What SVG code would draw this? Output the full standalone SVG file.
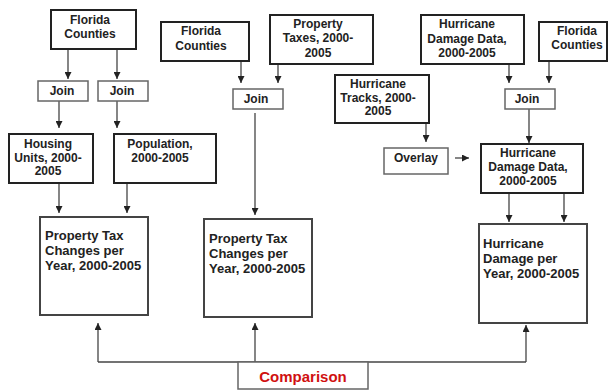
<svg xmlns="http://www.w3.org/2000/svg" width="609" height="390" viewBox="0 0 609 390">
<style>
.thick{fill:#fff;stroke:#222;stroke-width:2}
.thin{fill:#fff;stroke:#666;stroke-width:1.5}
.big{fill:#fff;stroke:#444;stroke-width:2}
.t{font-family:"Liberation Sans",Arial,sans-serif;font-weight:bold;font-size:12px;fill:#222;text-anchor:middle}
.tb{font-family:"Liberation Sans",Arial,sans-serif;font-weight:bold;font-size:13px;fill:#222}
.red{font-family:"Liberation Sans",Arial,sans-serif;font-weight:bold;font-size:15px;fill:#d01010;text-anchor:middle}
.c{fill:none;stroke:#444;stroke-width:1.3}
</style>
<defs>
<marker id="ah" viewBox="0 0 8 8" refX="8" refY="4" markerWidth="7" markerHeight="7" markerUnits="userSpaceOnUse" orient="auto">
<path d="M0,0 L8,4 L0,8 z" fill="#222"/>
</marker>
</defs>
<g id="connectors">
<path class="c" d="M68,49 V79" marker-end="url(#ah)"/>
<path class="c" d="M117,49 V79" marker-end="url(#ah)"/>
<path class="c" d="M59,101 V128" marker-end="url(#ah)"/>
<path class="c" d="M117,101 V128" marker-end="url(#ah)"/>
<path class="c" d="M59,183 V213" marker-end="url(#ah)"/>
<path class="c" d="M127,183 V213" marker-end="url(#ah)"/>
<path class="c" d="M241,61 V83" marker-end="url(#ah)"/>
<path class="c" d="M278,64 V83" marker-end="url(#ah)"/>
<path class="c" d="M255,113 V215" marker-end="url(#ah)"/>
<path class="c" d="M509,64 V83" marker-end="url(#ah)"/>
<path class="c" d="M549,61 V83" marker-end="url(#ah)"/>
<path class="c" d="M529,109 V143" marker-end="url(#ah)"/>
<path class="c" d="M426,123 V142" marker-end="url(#ah)"/>
<path class="c" d="M455,158 H469" marker-end="url(#ah)"/>
<path class="c" d="M509,193 V222" marker-end="url(#ah)"/>
<path class="c" d="M564,193 V222" marker-end="url(#ah)"/>
<path class="c" d="M98,362 H526"/>
<path class="c" d="M98,362 V323" marker-end="url(#ah)"/>
<path class="c" d="M255,362 V323" marker-end="url(#ah)"/>
<path class="c" d="M526,362 V325" marker-end="url(#ah)"/>
</g>
<g id="fc1"><rect class="thick" x="51" y="10" width="85" height="39"/><text class="t" x="90" y="24">Florida</text><text class="t" x="90" y="38">Counties</text></g>
<g id="join1"><rect class="thin" x="38" y="81" width="50" height="20"/><text class="t" x="62" y="95">Join</text></g>
<g id="join2"><rect class="thin" x="98" y="81" width="50" height="20"/><text class="t" x="122" y="95">Join</text></g>
<g id="housing"><rect class="thick" x="9" y="134" width="84" height="49"/><text class="t" x="48" y="148">Housing</text><text class="t" x="48" y="162">Units, 2000-</text><text class="t" x="48" y="175">2005</text></g>
<g id="population"><rect class="thick" x="114" y="134" width="102" height="49"/><text class="t" x="160" y="148">Population,</text><text class="t" x="160" y="162">2000-2005</text></g>
<g id="ptc1"><rect class="big" x="40" y="217" width="108" height="98"/><text class="tb" x="45" y="240">Property Tax</text><text class="tb" x="45" y="255">Changes per</text><text class="tb" x="45" y="270">Year, 2000-2005</text></g>
<g id="fc2"><rect class="thick" x="161" y="22" width="88" height="39"/><text class="t" x="201" y="35">Florida</text><text class="t" x="201" y="50">Counties</text></g>
<g id="proptax"><rect class="thick" x="270" y="15" width="103" height="49"/><text class="t" x="318" y="28">Property</text><text class="t" x="318" y="42">Taxes, 2000-</text><text class="t" x="318" y="57">2005</text></g>
<g id="join3"><rect class="thin" x="233" y="89" width="50" height="20"/><text class="t" x="256" y="103">Join</text></g>
<g id="ptc2"><rect class="big" x="204" y="219" width="108" height="98"/><text class="tb" x="209" y="243">Property Tax</text><text class="tb" x="209" y="258">Changes per</text><text class="tb" x="209" y="273">Year, 2000-2005</text></g>
<g id="tracks"><rect class="thick" x="335" y="75" width="94" height="48"/><text class="t" x="378" y="88">Hurricane</text><text class="t" x="378" y="102">Tracks, 2000-</text><text class="t" x="378" y="115">2005</text></g>
<g id="overlay"><rect class="thin" x="384" y="148" width="64" height="26"/><text class="t" x="416" y="162">Overlay</text></g>
<g id="hdd1"><rect class="thick" x="421" y="15" width="103" height="49"/><text class="t" x="467" y="28">Hurricane</text><text class="t" x="467" y="43">Damage Data,</text><text class="t" x="467" y="57">2000-2005</text></g>
<g id="fc3"><rect class="thick" x="539" y="22" width="68" height="39"/><text class="t" x="577" y="35">Florida</text><text class="t" x="577" y="49">Counties</text></g>
<g id="join4"><rect class="thin" x="505" y="89" width="50" height="20"/><text class="t" x="527" y="103">Join</text></g>
<g id="hdd2"><rect class="thick" x="481" y="144" width="102" height="49"/><text class="t" x="528" y="157">Hurricane</text><text class="t" x="528" y="171">Damage Data,</text><text class="t" x="528" y="185">2000-2005</text></g>
<g id="hdy"><rect class="big" x="479" y="224" width="108" height="99"/><text class="tb" x="483" y="248">Hurricane</text><text class="tb" x="483" y="263">Damage per</text><text class="tb" x="483" y="278">Year, 2000-2005</text></g>
<g id="comparison"><rect class="thin" x="238" y="362" width="130" height="27"/><text class="red" x="303" y="382">Comparison</text></g>
</svg>
